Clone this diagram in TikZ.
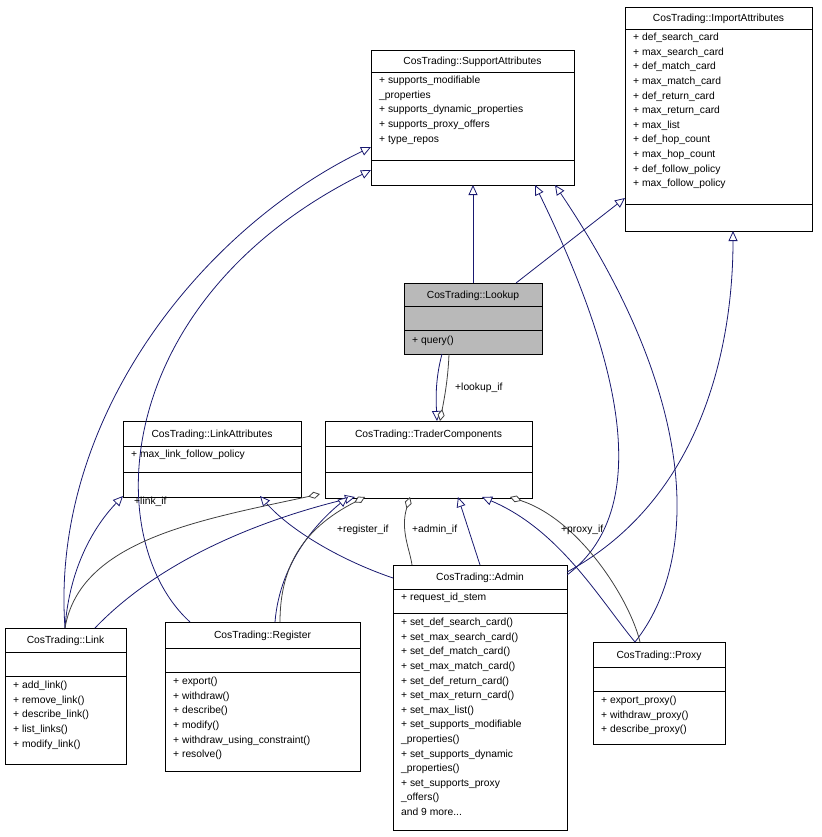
\documentclass[tikz,border=0pt]{standalone}
\usepackage{fontspec}
\setmainfont{Liberation Sans}
\usetikzlibrary{arrows.meta}
\definecolor{nav}{HTML}{191970}
\definecolor{dg}{HTML}{404040}
\tikzset{
  box/.style={draw=black,line width=0.8pt,inner sep=0pt,anchor=north west},
  txt/.style={anchor=north west,inner sep=0pt,align=left,font=\fontsize{10.3}{14.6}\selectfont},
  inh/.style={draw=nav,line width=0.8pt,-{Triangle[open,length=10pt,width=9pt,fill=white]}},
  comp/.style={draw=dg,line width=0.8pt,{Diamond[open,length=12pt,width=7pt,fill=white]}-},
  lbl/.style={inner sep=0pt,font=\fontsize{10.3}{12}\selectfont}
}
\newcommand\umlcls[9]{%
  \node[box,minimum width=#4pt,minimum height=#5pt+#6pt+#7pt] (#1) at (#2,#3) {};
  \draw[line width=0.8pt] (#2,#3+#5) -- ++(#4,0);
  \draw[line width=0.8pt] (#2,#3+#5+#6) -- ++(#4,0);
  \node[lbl,anchor=center] (#1t) at (#2+#4/2,#3+#5/2+1) {#8};
  \node[txt] (#1a) at (#2+8,#3+#5+4) {#9};
}
\begin{document}
\begin{tikzpicture}[x=1pt,y=-1pt]
\useasboundingbox (0,0) rectangle (821,837);
\fill[gray!55] (404,283) rectangle (542,354);
\umlcls{sa}{371}{50}{203}{22}{88}{25}{CosTrading::SupportAttributes}{+ supports\_modifiable\\\_properties\\+ supports\_dynamic\_properties\\+ supports\_proxy\_offers\\+ type\_repos}
\umlcls{ia}{625}{7}{187}{22}{175}{27}{CosTrading::ImportAttributes}{+ def\_search\_card\\+ max\_search\_card\\+ def\_match\_card\\+ max\_match\_card\\+ def\_return\_card\\+ max\_return\_card\\+ max\_list\\+ def\_hop\_count\\+ max\_hop\_count\\+ def\_follow\_policy\\+ max\_follow\_policy}
\umlcls{lu}{404}{283}{138}{23}{24}{24}{CosTrading::Lookup}{}
\node[txt] (lum) at (412,336) {+ query()};
\umlcls{la}{123}{421}{178}{25}{26}{25}{CosTrading::LinkAttributes}{+ max\_link\_follow\_policy}
\umlcls{tc}{325}{421}{207}{25}{26}{26}{CosTrading::TraderComponents}{}
\umlcls{lk}{5}{628}{121}{24}{24}{88}{CosTrading::Link}{}
\node[txt] (lkm) at (13,681) {+ add\_link()\\+ remove\_link()\\+ describe\_link()\\+ list\_links()\\+ modify\_link()};
\umlcls{rg}{165}{622}{195}{26}{24}{99}{CosTrading::Register}{}
\node[txt] (rgm) at (173,677) {+ export()\\+ withdraw()\\+ describe()\\+ modify()\\+ withdraw\_using\_constraint()\\+ resolve()};
\umlcls{ad}{393}{565}{174}{24}{24}{217}{CosTrading::Admin}{+ request\_id\_stem}
\node[txt] (adm) at (401,618) {+ set\_def\_search\_card()\\+ set\_max\_search\_card()\\+ set\_def\_match\_card()\\+ set\_max\_match\_card()\\+ set\_def\_return\_card()\\+ set\_max\_return\_card()\\+ set\_max\_list()\\+ set\_supports\_modifiable\\\_properties()\\+ set\_supports\_dynamic\\\_properties()\\+ set\_supports\_proxy\\\_offers()\\and 9 more...};
\umlcls{px}{593}{642}{132}{25}{24}{53}{CosTrading::Proxy}{}
\node[txt] (pxm) at (601,696) {+ export\_proxy()\\+ withdraw\_proxy()\\+ describe\_proxy()};
% inheritance
\draw[inh] (473,283) -- (473,185);
\draw[inh] (516,283) -- (625,198);
\draw[inh] (442,354) .. controls (435,380) and (436,400) .. (437,421);
\draw[inh] (65,628) .. controls (70,560) and (100,520) .. (123,496);
\draw[inh] (65,628) .. controls (50,420) and (200,230) .. (371,147);
\draw[inh] (190,622) .. controls (100,540) and (110,300) .. (371,170);
\draw[inh] (95,628) .. controls (160,560) and (260,520) .. (355,497);
\draw[inh] (275,622) .. controls (280,560) and (320,520) .. (348,497);
\draw[inh] (393,578) .. controls (340,560) and (290,530) .. (260,496);
\draw[inh] (480,565) -- (458,497);
\draw[inh] (567,575) .. controls (640,520) and (640,400) .. (535,185);
\draw[inh] (567,572) .. controls (700,500) and (733,350) .. (733,231);
\draw[inh] (635,642) .. controls (600,600) and (560,530) .. (482,497);
\draw[inh] (635,642) .. controls (700,560) and (700,400) .. (555,185);
% composition
\draw[comp] (440,421) .. controls (444,400) and (448,380) .. (449,354);
\draw[comp] (320,494) .. controls (200,520) and (80,540) .. (65,628);
\draw[comp] (365,497) .. controls (300,530) and (280,570) .. (280,622);
\draw[comp] (410,497) .. controls (400,530) and (410,550) .. (412,565);
\draw[comp] (510,497) .. controls (580,520) and (630,600) .. (640,642);
\node[lbl,anchor=west] (l1) at (455,388) {+lookup\_if};
\node[lbl,anchor=west] (l2) at (134,502) {+link\_if};
\node[lbl,anchor=west] (l3) at (337,530) {+register\_if};
\node[lbl,anchor=west] (l4) at (412,530) {+admin\_if};
\node[lbl,anchor=west] (l5) at (561,530) {+proxy\_if};
\end{tikzpicture}
\end{document}
